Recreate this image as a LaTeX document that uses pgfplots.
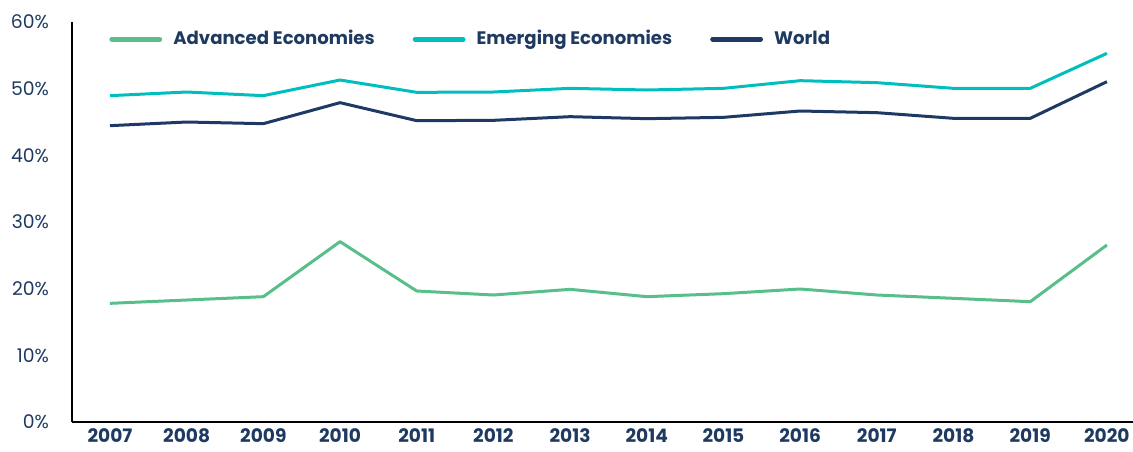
\documentclass[border=0pt]{standalone}
\usepackage{pgfplots}
\pgfplotsset{compat=1.18}
\usepackage{fontspec}
\setmainfont{Poppins}
\definecolor{advc}{HTML}{58BE8A}
\definecolor{emc}{HTML}{00BEBE}
\definecolor{wc}{HTML}{1E3A64}
\definecolor{txt}{HTML}{1F3A60}
\begin{document}
\begin{tikzpicture}
\useasboundingbox (-36pt,-14.5pt) rectangle (530.5pt,211pt);
\begin{axis}[
  at={(0,0)}, anchor=south west,
  scale only axis,
  width=530.5pt, height=200pt,
  xmin=2006.505, xmax=2020.34,
  ymin=0, ymax=60,
  axis x line*=bottom, axis y line*=left,
  axis line style={black, line width=1pt, -},
  xtick={2007,...,2020},
  xticklabels={2007,2008,2009,2010,2011,2012,2013,2014,2015,2016,2017,2018,2019,2020},
  ytick={0,10,...,60},
  yticklabel={\pgfmathprintnumber{\tick}\%},
  /pgf/number format/assume math mode=true,
  major tick length=0pt,
  x tick label style={font=\fontsize{9.3}{11}\selectfont\bfseries, text=txt, yshift=-2.3pt, inner sep=1pt},
  y tick label style={font=\fontsize{9.4}{11}\selectfont, text=txt, xshift=-8pt},
  legend style={draw=none, fill=none, at={(rel axis cs:0,1)}, anchor=north west,
    xshift=15.5pt, yshift=0pt, font=\fontsize{9.05}{11}\selectfont\bfseries, text=txt,
    /tikz/every even column/.append style={column sep=17pt}},
  legend columns=3,
  legend image code/.code={\draw[line width=2.4pt, line cap=round] (0pt,0pt) -- (24pt,0pt); \path (28pt,0pt);},
  every axis plot/.append style={line width=1.5pt, line join=round},
  clip=false,
]
\addplot[color=advc] coordinates {
(2007,17.8) (2008,18.3) (2009,18.8) (2010,27.05) (2011,19.65) (2012,19.05) (2013,19.9)
(2014,18.8) (2015,19.25) (2016,19.95) (2017,19.05) (2018,18.55) (2019,18.05) (2020,26.55)};
\addlegendentry{Advanced Economies}
\addplot[color=emc] coordinates {
(2007,48.95) (2008,49.5) (2009,48.95) (2010,51.3) (2011,49.45) (2012,49.5) (2013,50.05)
(2014,49.8) (2015,50.05) (2016,51.2) (2017,50.9) (2018,50.05) (2019,50.05) (2020,55.3)};
\addlegendentry{Emerging Economies}
\addplot[color=wc] coordinates {
(2007,44.45) (2008,45) (2009,44.75) (2010,47.9) (2011,45.2) (2012,45.25) (2013,45.8)
(2014,45.5) (2015,45.7) (2016,46.65) (2017,46.4) (2018,45.55) (2019,45.55) (2020,51.05)};
\addlegendentry{World}
\end{axis}
\end{tikzpicture}
\end{document}
